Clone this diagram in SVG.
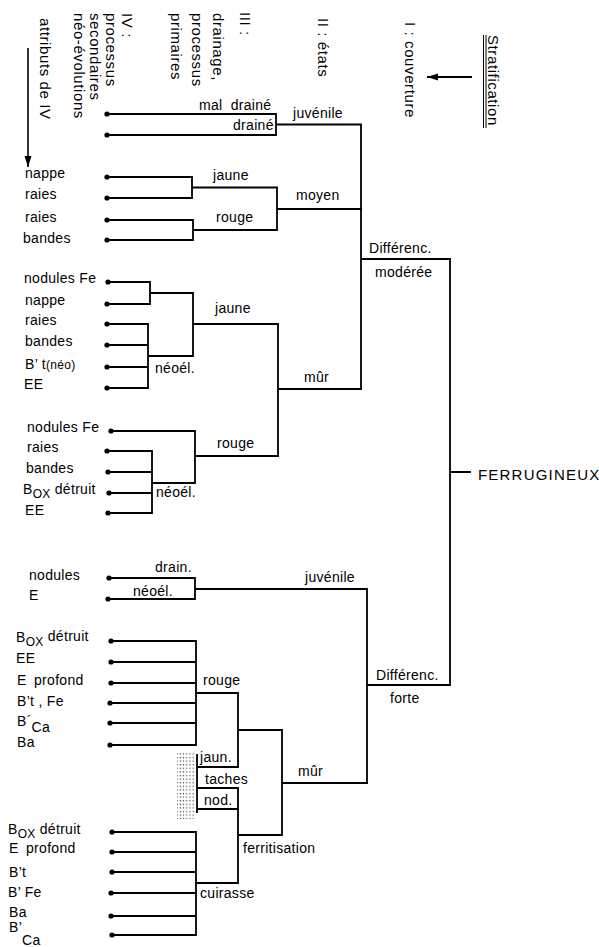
<svg xmlns="http://www.w3.org/2000/svg" width="599" height="947" viewBox="0 0 599 947">
<style>
text{font-family:"Liberation Sans",Arial,sans-serif;font-size:14px;fill:#000;letter-spacing:0.3px}
.hd{font-size:15px;letter-spacing:0.6px}
.ln{fill:none;stroke:#000;stroke-width:1.8;stroke-linejoin:miter;stroke-linecap:square}
.dot{fill:#000}
.sm{font-size:12px}
.big{font-size:15px;letter-spacing:1.2px}
</style>
<defs>
<marker id="ah" markerWidth="11" markerHeight="8" refX="11" refY="4" orient="auto" markerUnits="userSpaceOnUse" viewBox="0 0 11 8">
<path d="M0,0.5 L11,4 L0,7.5 Z" fill="#000"/>
</marker>
<pattern id="dots" width="3.2" height="3.6" patternUnits="userSpaceOnUse">
<rect x="0.6" y="1" width="1.1" height="1.1" fill="#222"/>
</pattern>
</defs>

<g id="header">
<text class="hd" transform="translate(488,35) rotate(90)">Stratification</text>
<line x1="483.5" y1="35" x2="483.5" y2="128" stroke="#000" stroke-width="1"/>
<line x1="486" y1="35" x2="486" y2="128" stroke="#000" stroke-width="1"/>
<line x1="472" y1="77" x2="427" y2="77" stroke="#000" stroke-width="2" marker-end="url(#ah)"/>
<text class="hd" transform="translate(405,22) rotate(90)">I : couverture</text>
<text class="hd" transform="translate(318,18) rotate(90)">II : états</text>
<text class="hd" transform="translate(240,12) rotate(90)">III :</text>
<text class="hd" transform="translate(213,13) rotate(90)">drainage,</text>
<text class="hd" transform="translate(192,13) rotate(90)">processus</text>
<text class="hd" transform="translate(171,13) rotate(90)">primaires</text>
<text class="hd" transform="translate(122,13) rotate(90)">IV :</text>
<text class="hd" transform="translate(106,13) rotate(90)">processus</text>
<text class="hd" transform="translate(90,13) rotate(90)">secondaires</text>
<text class="hd" transform="translate(74,13) rotate(90)">néo-évolutions</text>
<text class="hd" transform="translate(40,18) rotate(90)">attributs de  IV</text>
<line x1="28" y1="48" x2="28" y2="167" stroke="#000" stroke-width="1.6" marker-end="url(#ah)"/>
</g>

<g id="connectors">
<path class="ln" d="M107,114 H276 V135 H107 M276,124.5 H361 V389 M361,259 H450"/>
<path class="ln" d="M107,177 H192 V198 H107 M192,187.5 H277 V230 H193 M107,220 H193 V240 H107 M277,209 H361"/>
<path class="ln" d="M108,282 H150 V304 H107 M150,293 H193 V356 H148 M107,324 H148 V388 H107 M107,345 H148 M107,367 H148 M193,324 H278 V456 M278,389 H361"/>
<path class="ln" d="M111,431 H195 V483 H152 M107,451 H152 V513 H108 M108,472 H152 M109,493 H152 M195,456 H278"/>
<path class="ln" d="M109,578 H195 V599 H108 M195,589 H367 V783 M367,685 H450 M450,259 V685 M450,472 H470"/>
<path class="ln" d="M111,641 H196 V745 H110 M111,662 H196 M111,683 H196 M110,703 H196 M110,723 H196 M196,693 H238 V767 H197 M197,755 V812 M197,788 H238 V883 H196 M197,809 H238 M238,730 H282 V835 H238 M282,783 H367"/>
<path class="ln" d="M112,832 H196 V935 H112 M112,852 H196 M112,872 H196 M111,893 H196 M111,916 H196"/>
<rect x="177" y="753" width="18" height="66" fill="url(#dots)"/>
</g>

<g id="dots">
<circle class="dot" cx="107" cy="114" r="2.6"/><circle class="dot" cx="107" cy="135" r="2.6"/>
<circle class="dot" cx="107" cy="177" r="2.6"/><circle class="dot" cx="107" cy="198" r="2.6"/>
<circle class="dot" cx="107" cy="220" r="2.6"/><circle class="dot" cx="107" cy="240" r="2.6"/>
<circle class="dot" cx="108" cy="282" r="2.6"/><circle class="dot" cx="107" cy="304" r="2.6"/>
<circle class="dot" cx="107" cy="324" r="2.6"/><circle class="dot" cx="107" cy="345" r="2.6"/>
<circle class="dot" cx="107" cy="367" r="2.6"/><circle class="dot" cx="107" cy="388" r="2.6"/>
<circle class="dot" cx="111" cy="431" r="2.6"/><circle class="dot" cx="107" cy="451" r="2.6"/>
<circle class="dot" cx="108" cy="472" r="2.6"/><circle class="dot" cx="109" cy="493" r="2.6"/>
<circle class="dot" cx="108" cy="513" r="2.6"/>
<circle class="dot" cx="109" cy="578" r="2.6"/><circle class="dot" cx="108" cy="599" r="2.6"/>
<circle class="dot" cx="111" cy="641" r="2.6"/><circle class="dot" cx="111" cy="662" r="2.6"/>
<circle class="dot" cx="111" cy="683" r="2.6"/><circle class="dot" cx="110" cy="703" r="2.6"/>
<circle class="dot" cx="110" cy="723" r="2.6"/><circle class="dot" cx="110" cy="745" r="2.6"/>
<circle class="dot" cx="112" cy="832" r="2.6"/><circle class="dot" cx="112" cy="852" r="2.6"/>
<circle class="dot" cx="112" cy="872" r="2.6"/><circle class="dot" cx="111" cy="893" r="2.6"/>
<circle class="dot" cx="111" cy="916" r="2.6"/><circle class="dot" cx="112" cy="935" r="2.6"/>
</g>

<g id="n-juvenile1"><text x="199" y="110" word-spacing="4">mal drainé</text><text x="233" y="130">drainé</text><text x="293" y="118">juvénile</text></g>
<g id="n-moyen"><text x="213" y="180">jaune</text><text x="216" y="222">rouge</text><text x="296" y="200">moyen</text></g>
<g id="n-moderee"><text x="369" y="253">Différenc.</text><text x="375" y="277">modérée</text></g>
<g id="n-mur1"><text x="215" y="313">jaune</text><text x="155" y="373">néoél.</text><text x="217" y="448">rouge</text><text x="156" y="497">néoél.</text><text x="304" y="382">mûr</text></g>
<g id="n-ferrugineux"><text class="big" x="478" y="480">FERRUGINEUX</text></g>
<g id="n-juvenile2"><text x="155" y="572">drain.</text><text x="133" y="596">néoél.</text><text x="305" y="582">juvénile</text></g>
<g id="n-forte"><text x="376" y="680">Différenc.</text><text x="390" y="703">forte</text></g>
<g id="n-mur2"><text x="203" y="685">rouge</text><text x="200" y="762">jaun.</text><text x="205" y="784">taches</text><text x="204" y="805">nod.</text><text x="298" y="776">mûr</text><text x="243" y="853">ferritisation</text><text x="200" y="898">cuirasse</text></g>

<g id="leaves1"><text x="25" y="178">nappe</text><text x="25" y="199">raies</text><text x="25" y="222">raies</text><text x="23" y="243">bandes</text></g>
<g id="leaves2"><text x="24" y="283">nodules Fe</text><text x="25" y="305">nappe</text><text x="25" y="325">raies</text><text x="25" y="346">bandes</text><text x="25" y="369">B’ t<tspan class="sm">(néo)</tspan></text><text x="24" y="389">EE</text></g>
<g id="leaves3"><text x="27" y="432">nodules Fe</text><text x="27" y="452">raies</text><text x="26" y="473">bandes</text><text x="23" y="494">B<tspan class="sm" dy="4">OX</tspan><tspan dy="-4"> détruit</tspan></text><text x="25" y="515">EE</text></g>
<g id="leaves4"><text x="29" y="580">nodules</text><text x="29" y="600">E</text></g>
<g id="leaves5"><text x="16" y="642">B<tspan class="sm" dy="4">OX</tspan><tspan dy="-5"> détruit</tspan></text><text x="16" y="663">EE</text><text x="17" y="685">E<tspan x="34">profond</tspan></text><text x="17" y="706">B’t , Fe</text><text x="17" y="726">B´<tspan dy="6">Ca</tspan></text><text x="17" y="747">Ba</text></g>
<g id="leaves6"><text x="8" y="834">B<tspan class="sm" dy="4">OX</tspan><tspan dy="-4"> détruit</tspan></text><text x="9" y="853">E<tspan x="26">profond</tspan></text><text x="9" y="877">B’t</text><text x="8" y="897">B’ Fe</text><text x="9" y="917">Ba</text><text x="9" y="932">B’<tspan dy="13">Ca</tspan></text></g>
</svg>
